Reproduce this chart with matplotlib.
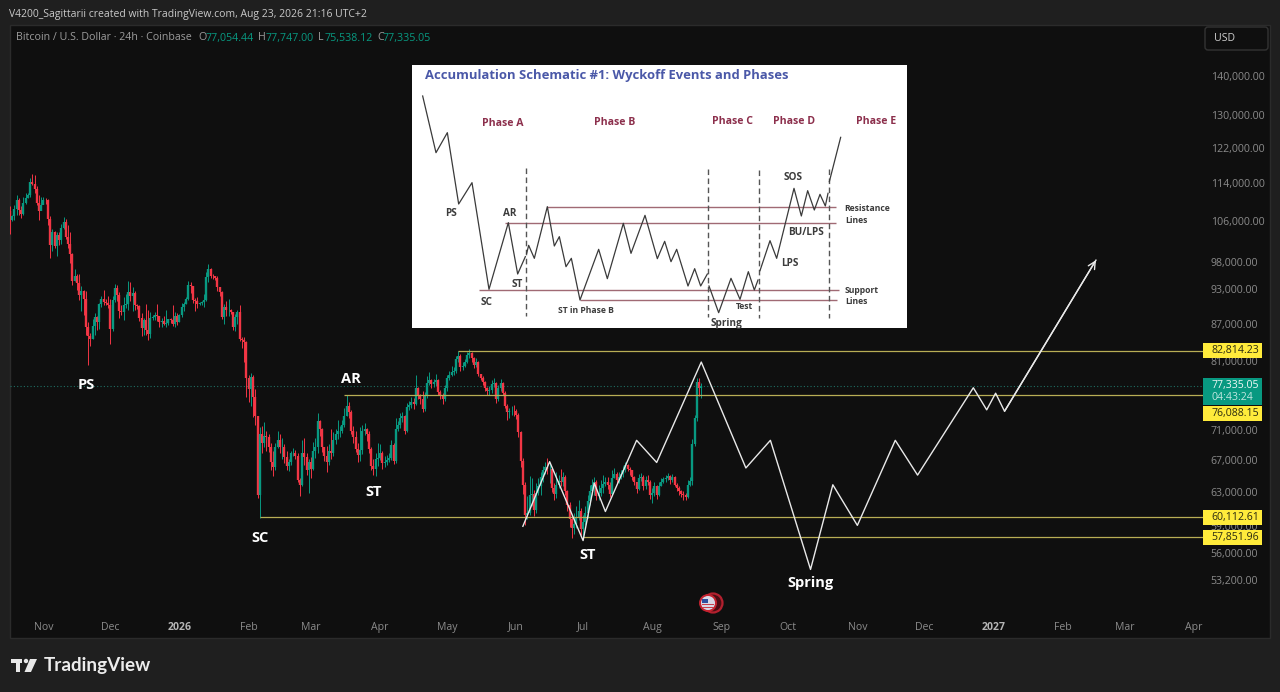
import numpy as np
import matplotlib
matplotlib.use("Agg")
import matplotlib.pyplot as plt
import matplotlib.dates as mdates
from matplotlib.patches import Rectangle, FancyBboxPatch, Circle, Polygon
from matplotlib.ticker import FixedLocator, FixedFormatter, NullLocator
from matplotlib.transforms import ScaledTranslation
import datetime as dt

plt.rcParams['font.family'] = ['Open Sans', 'DejaVu Sans']

# daily candles in thousand USD, first bar is 17 Oct 2025
close_k = [
    106.4,107.2,108.6,110.5,108.4,107.6,110.0,111.0,111.6,114.5,114.1,112.9,110.0,108.3,109.6,
    110.6,110.5,106.5,101.5,103.9,101.3,103.3,102.3,104.7,106.0,103.0,101.6,99.7,94.6,95.6,94.2,92.2,92.9,91.5,86.6,85.1,84.7,86.8,88.3,87.4,90.5,91.4,90.9,90.8,90.4,
    86.3,91.3,93.4,92.1,89.3,89.2,90.4,90.6,92.7,92.0,92.5,90.3,90.2,88.2,86.4,87.8,86.1,85.5,88.1,88.3,88.6,88.5,87.5,87.7,87.2,87.3,87.9,87.8,87.1,88.5,87.5,
    88.7,90.0,90.6,91.5,93.9,93.7,91.3,91.1,90.5,90.7,90.9,91.2,95.3,96.9,95.6,95.5,95.1,93.6,92.6,88.3,90.0,89.5,89.5,89.2,86.6,88.3,89.1,84.6,84.5,84.1,78.6,
    76.9,78.7,75.8,73.0,62.8,70.5,69.3,70.3,70.1,68.8,66.9,66.2,68.8,69.8,68.8,68.8,67.5,66.4,66.9,68.0,68.0,67.6,64.6,64.0,68.0,67.5,65.9,66.9,
    66.0,68.3,68.8,72.3,71.2,68.8,67.6,66.9,68.3,68.0,69.8,70.5,71.0,71.0,71.8,73.0,74.5,73.6,71.0,70.2,68.6,67.7,68.4,71.0,71.2,70.6,68.6,66.4,66.0,67.2,67.4,
    68.0,66.7,66.9,67.1,67.4,69.1,67.0,71.2,71.8,72.8,73.0,71.0,74.3,74.6,75.0,74.8,77.0,76.0,75.4,74.0,76.0,77.8,78.3,77.6,78.0,78.2,76.5,76.0,75.5,77.0,
    78.5,79.0,79.4,79.6,81.5,81.9,80.3,80.4,81.0,82.1,82.4,81.6,80.5,81.0,79.1,78.6,78.0,77.0,76.6,76.8,77.6,77.8,75.5,77.0,77.8,76.4,74.4,73.6,73.7,73.8,73.7,
    73.2,70.8,67.0,64.0,60.4,60.6,62.8,62.9,61.0,63.0,63.8,65.0,65.8,66.2,66.0,66.0,63.6,62.9,64.0,64.5,64.4,65.0,63.2,61.6,59.9,58.9,59.4,60.2,60.9,58.8,
    59.6,60.6,62.0,63.2,64.0,64.4,62.6,63.0,63.6,64.1,64.4,64.0,62.9,64.9,65.4,64.6,65.0,65.3,65.8,66.5,66.0,65.9,65.0,64.3,63.5,64.8,65.0,63.8,64.6,64.4,62.8,
    63.0,63.9,62.7,63.9,64.4,64.7,64.9,65.1,64.6,65.0,64.0,63.6,63.2,62.9,62.7,62.5,64.0,64.5,69.2,72.7,78.0,77.05444,77.33505,
]
high_k = [
    109.2,107.5,109.4,111.7,111.0,109.2,111.2,112.0,112.0,115.4,116.3,116.0,113.6,111.6,111.2,
    111.2,111.0,110.8,107.3,104.5,104.2,104.0,103.9,105.5,107.0,106.6,105.3,104.0,99.8,96.8,96.0,96.0,93.8,93.1,92.8,87.5,85.6,88.0,89.0,88.5,90.7,91.9,93.1,91.5,91.9,
    91.4,92.0,94.1,94.0,92.7,90.3,91.8,92.3,94.6,94.5,93.5,92.8,90.6,90.3,89.0,88.2,90.6,89.5,89.2,88.6,89.1,90.6,88.0,88.2,88.5,89.5,88.0,88.1,90.4,89.2,89.0,
    88.9,90.8,90.9,91.7,94.6,94.4,93.6,91.6,91.7,90.9,91.1,92.3,96.3,97.8,97.1,95.9,95.6,95.5,93.5,92.9,90.6,91.0,91.4,89.7,89.2,88.9,89.5,90.4,85.0,85.0,84.3,
    79.0,79.3,79.0,76.9,73.0,71.5,71.7,72.2,71.0,70.5,69.3,68.3,69.4,70.9,70.5,70.0,69.2,68.3,67.3,68.3,68.7,68.4,68.0,64.9,69.8,70.0,68.0,67.2,
    67.5,69.5,70.0,73.5,72.5,71.4,68.6,69.0,69.2,71.2,70.8,71.2,72.5,71.6,72.5,74.2,76.1,75.0,73.9,71.6,71.0,69.4,71.5,71.8,72.0,71.4,71.0,68.8,67.2,68.0,69.3,
    69.2,68.3,67.6,67.8,68.0,69.8,69.4,72.8,72.4,73.4,73.6,73.2,74.9,75.2,75.8,75.6,79.0,77.2,76.2,76.6,76.5,78.9,79.4,78.4,78.4,79.1,78.4,76.8,76.4,77.5,
    79.0,79.6,80.4,80.2,82.0,82.7,82.2,81.0,81.5,82.6,83.0,82.6,81.8,81.6,81.2,79.2,78.8,78.1,77.2,77.4,78.2,78.6,78.0,77.5,78.4,78.0,76.6,74.8,74.2,74.4,74.6,
    74.0,73.4,71.0,67.4,64.4,62.6,65.1,64.9,63.4,64.2,64.8,65.6,66.4,66.9,67.4,66.6,66.2,64.2,65.6,65.2,66.0,65.6,65.2,63.4,61.9,60.4,60.6,61.4,62.2,61.2,
    60.4,61.4,62.8,64.0,64.7,65.0,64.6,64.0,64.6,65.2,65.0,65.0,64.3,65.8,66.1,65.6,65.6,65.9,66.3,66.9,66.6,66.2,65.9,65.1,64.4,65.4,65.5,65.2,65.1,65.2,64.6,
    63.6,64.3,64.0,64.4,64.8,65.0,65.2,65.5,65.2,65.4,65.1,64.2,63.8,63.4,63.2,63.0,64.6,65.0,69.9,73.2,78.6,78.6,77.747,
]
low_k = [
    103.5,106.1,106.4,107.5,107.4,106.9,107.4,109.8,110.9,111.3,113.8,112.0,109.5,106.3,108.4,
    109.7,109.8,105.3,98.9,100.3,100.8,99.3,101.5,101.6,104.5,102.5,100.8,98.0,94.0,94.6,93.0,91.2,89.3,88.6,85.4,80.6,83.5,84.7,85.3,86.1,86.3,90.1,90.3,90.3,89.9,
    83.8,85.9,90.9,91.1,88.2,88.6,87.8,89.8,89.5,91.0,89.3,89.5,89.7,87.6,85.2,85.3,85.3,84.5,84.9,87.8,87.8,87.7,86.6,86.6,86.9,86.6,87.0,87.3,86.8,86.6,87.0,
    87.5,88.4,89.3,90.5,91.3,92.5,90.8,89.3,89.8,90.4,90.3,90.0,91.1,94.4,95.1,95.0,94.9,92.9,92.0,87.9,87.2,88.5,88.5,88.9,86.1,86.0,87.2,84.3,83.2,81.0,75.7,
    75.0,74.5,72.9,71.8,62.4,60.1,68.0,68.8,68.3,68.2,65.8,65.1,65.8,68.7,68.0,67.3,66.7,65.9,65.7,66.5,67.6,67.3,64.3,62.6,63.9,66.5,65.2,63.0,
    64.9,65.9,67.4,68.0,70.3,68.2,67.0,65.6,66.5,67.3,67.6,69.2,69.9,70.2,70.7,71.5,73.0,72.8,70.6,69.4,68.2,66.9,67.0,67.9,70.4,69.6,68.0,65.8,65.2,65.1,66.3,
    67.1,66.0,66.2,66.5,66.9,67.1,66.6,66.7,70.9,71.4,72.2,70.6,70.8,73.9,74.2,74.0,74.6,75.4,74.8,73.6,73.8,75.6,77.5,77.0,77.2,77.4,76.0,75.5,74.8,75.2,
    76.6,78.2,78.8,79.0,79.3,81.0,79.6,79.8,80.2,80.8,81.7,81.0,80.1,80.2,78.8,78.2,77.5,76.6,76.0,76.1,76.3,77.2,74.9,75.2,76.6,76.0,74.1,72.5,72.7,73.2,73.0,
    72.6,70.2,66.2,62.9,59.2,59.9,60.4,61.4,60.3,60.6,62.8,62.8,64.4,65.4,65.4,64.2,63.1,62.1,62.4,63.6,63.8,63.8,62.8,60.8,59.0,57.8,58.2,58.9,59.8,58.1,
    57.9,59.2,60.1,61.6,62.8,62.8,62.2,62.2,62.6,63.0,63.8,63.5,62.5,62.7,64.8,64.2,64.2,64.7,65.0,65.6,65.7,65.2,64.6,64.0,63.0,63.4,64.5,63.4,63.5,64.0,62.3,
    61.8,62.6,62.3,62.6,63.8,64.2,64.4,64.6,64.1,64.4,63.8,63.2,62.8,62.5,62.2,62.2,62.4,63.8,64.0,68.9,72.4,75.9,75.53812,
]
assert len(close_k) == len(high_k) == len(low_k) == 311

# the white projected path
path_dates = ["2026-06-04","2026-06-16","2026-07-01","2026-07-06","2026-07-11","2026-07-25","2026-08-03",
              "2026-08-23","2026-09-12","2026-09-23","2026-10-11","2026-10-21","2026-11-01","2026-11-18",
              "2026-11-28","2026-12-23","2026-12-29","2027-01-02","2027-01-06","2027-02-16"]
path_k = [59.1,66.9,57.5,64.2,60.8,69.7,66.8,81.0,66.1,69.7,54.4,64.0,59.2,69.7,65.2,77.1,73.9,76.3,73.7,98.5]

# horizontal levels and the day they start on
level_prices = [82814.23, 76088.15, 60112.61, 57851.96]
level_starts = ["2026-05-06", "2026-03-16", "2026-02-06", "2026-07-01"]
level_shift_px = [0, 19, 0, 0]

wyckoff_text = ["PS", "AR", "ST", "SC", "ST", "Spring"]
wyckoff_dates = ["2025-11-20", "2026-03-19", "2026-03-29", "2026-02-06", "2026-07-03", "2026-10-11"]
wyckoff_k = [77.5, 78.4, 63.1, 57.8, 55.9, 53.0]

price_ticks = [140000,130000,122000,114000,106000,98000,93000,87000,81000,71000,67000,63000,59000,56000,53200]
month_dates = ["2025-11-01","2025-12-01","2026-01-01","2026-02-01","2026-03-01","2026-04-01","2026-05-01","2026-06-01",
               "2026-07-01","2026-08-01","2026-09-01","2026-10-01","2026-11-01","2026-12-01","2027-01-01","2027-02-01",
               "2027-03-01","2027-04-01"]
month_labels = ["Nov","Dec","2026","Feb","Mar","Apr","May","Jun","Jul","Aug","Sep","Oct","Nov","Dec","2027","Feb","Mar","Apr"]

# schematic inset, traced on its own 1500 wide grid
sch_a_x = [38,78,112,146,186,237,295,323,346]
sch_a_y = [108,278,218,432,368,688,488,642,590]
sch_b_x = [350,356,373,412,433,448,468,484,510,566,592,640,663,705,742,764,783,800,834,854,872,892]
sch_b_y = [580,556,595,440,558,530,620,595,720,568,656,490,580,466,596,544,605,568,678,626,678,642]
sch_c_x = [897,926,963,990,1015,1033,1044]
sch_c_y = [678,758,655,718,635,690,660]
sch_d_x = [1050,1080,1100,1152,1174,1193,1213,1230,1246,1254]
sch_d_y = [632,542,595,385,468,392,450,403,438,400]
sch_e_x = [1258,1292]
sch_e_y = [365,232]
sch_h_y = [440,488,691,721]
sch_h_from = [412,285,207,510]
sch_h_to = [1278,1278,1288,1282]
sch_v_x = [348,895,1046,1257]
sch_v_from = [325,328,330,328]
sch_v_to = [768,770,775,775]
phase_text = ["Phase A","Phase B","Phase C","Phase D","Phase E"]
phase_x = [279,614,967,1152,1397]
phase_y = [191,188,186,186,184]
event_text = ["PS","AR","ST","SC","ST in Phase B","Test","Spring","SOS","BU/LPS","LPS","Resistance","Lines","Support","Lines"]
event_x = [123,299,322,229,527,1002,950,1148,1189,1140,1372,1338,1356,1340]
event_y = [461,459,672,727,752,740,790,352,516,610,446,480,690,725]

W, H = 1280, 692
def ax_rect(x0, y0, x1, y1):
    return [x0/W, 1-y1/H, (x1-x0)/W, (y1-y0)/H]

GREEN = "#089981"
RED = "#f23645"
LEVEL = "#b8ae55"
TICK = "#8b8b8b"
PANEL = "#0f0f0f"

fig = plt.figure(figsize=(12.8, 6.92), dpi=100, facecolor="#1f1f1f")
fig.add_artist(Rectangle((10/W, 1-638/H), 1260/W, 613/H, transform=fig.transFigure,
                         fc=PANEL, ec="#2b2b2b", lw=1, zorder=-1))

# panel is one pixel lower than the scale labels suggest, labels are moved back below
ax = fig.add_axes(ax_rect(10, 26, 1203, 639), facecolor="none")
ax.set_yscale("log")
ax.set_ylim(47600, 154400)
ax.set_xlim(mdates.date2num(dt.date(2025,10,17)), mdates.date2num(dt.date(2027,4,5)))

first = mdates.date2num(dt.date(2025,10,17))
days = first + np.arange(len(close_k))
closes = np.array(close_k)*1000
highs = np.array(high_k)*1000
lows = np.array(low_k)*1000
opens = np.r_[108200.0, closes[:-1]]
up = closes >= opens
colors = np.where(up, GREEN, RED)

ax.axhline(closes[-1], color="#1f6f64", lw=0.8, ls=(0, (1, 2)), zorder=1)
ax.vlines(days, lows, highs, colors=colors, lw=0.7, zorder=2)
ax.vlines(days, np.minimum(opens, closes), np.maximum(opens, closes), colors=colors, lw=1.7, zorder=3)

right_end = ax.get_xlim()[1]
for price, start in zip(level_prices, level_starts):
    ax.hlines(price, mdates.datestr2num(start), right_end, color=LEVEL, lw=0.9, zorder=4)

px = mdates.datestr2num(path_dates)
py = np.array(path_k)*1000
ax.plot(px, py, color="#e9e9e9", lw=1.0, zorder=5)
ax.annotate("", xy=(px[-1], py[-1]), xytext=(px[-2], py[-2]), zorder=5,
            arrowprops=dict(arrowstyle="->", color="#e9e9e9", lw=1.0, mutation_scale=13, shrinkA=0, shrinkB=0))

for label, d, k in zip(wyckoff_text, wyckoff_dates, wyckoff_k):
    ax.text(mdates.datestr2num(d), k*1000, label, color="white", fontsize=10.5, fontweight="bold",
            ha="center", va="center", zorder=6)

# price scale, labels left aligned at a fixed x
ax.yaxis.tick_right()
ax.yaxis.set_major_locator(FixedLocator(price_ticks))
ax.yaxis.set_major_formatter(FixedFormatter([f"{v:,.2f}" for v in price_ticks]))
ax.yaxis.set_minor_locator(NullLocator())
ax.tick_params(axis="y", length=0, pad=5.5, labelsize=7.6, labelcolor=TICK)
label_up = ScaledTranslation(0, 1/100, fig.dpi_scale_trans)
for t in ax.get_yticklabels():
    t.set_ha("left")
    t.set_transform(t.get_transform() + label_up)

# time scale drawn inside the panel like TradingView does
ax.xaxis.set_major_locator(FixedLocator(mdates.datestr2num(month_dates)))
ax.xaxis.set_major_formatter(FixedFormatter(month_labels))
ax.tick_params(axis="x", length=0, pad=-8.6, labelsize=7.6, labelcolor=TICK)
for t in ax.get_xticklabels():
    t.set_va("center")
    if t.get_text() in ("2026", "2027"):
        t.set_fontweight("bold")
        t.set_color("#b5b5b5")
for s in ax.spines.values():
    s.set_visible(False)

# inset schematic
ins = fig.add_axes(ax_rect(412, 65, 907, 328), facecolor="white", zorder=3)
ins.set_xlim(6, 1491)
ins.set_ylim(804, 15)
ins.set_xticks([])
ins.set_yticks([])
for s in ins.spines.values():
    s.set_visible(False)
ins.hlines(sch_h_y, sch_h_from, sch_h_to, color="#a06a74", lw=1)
ins.vlines(sch_v_x, sch_v_from, sch_v_to, color="#555555", lw=1, linestyles=(0, (4, 2.5)))
for xs, ys in [(sch_a_x, sch_a_y), (sch_b_x, sch_b_y), (sch_c_x, sch_c_y), (sch_d_x, sch_d_y), (sch_e_x, sch_e_y)]:
    ins.plot(xs, ys, color="#3a3a3a", lw=0.9)
ins.text(44, 47, "Accumulation Schematic #1: Wyckoff Events and Phases", color="#4a58a8",
         fontsize=9.35, fontweight="bold", va="center", ha="left")
for label, x, y in zip(phase_text, phase_x, phase_y):
    ins.text(x, y, label, color="#8c2f4c", fontsize=7.6, fontweight="bold", ha="center", va="center")
for label, x, y in zip(event_text, event_x, event_y):
    small = label in ("Resistance", "Lines", "Support", "Test", "ST in Phase B")
    ins.text(x, y, label, color="#3c3c3c", fontsize=6.2 if small else 7.2, fontweight="bold", ha="center", va="center")

# chrome: header, legend, currency box, tags, logo, flag
over = fig.add_axes([0, 0, 1, 1], facecolor="none", zorder=5)
over.set_xlim(0, W)
over.set_ylim(H, 0)
over.axis("off")
over.text(9, 14, "V4200_Sagittarii created with TradingView.com, Aug 23, 2026 21:16 UTC+2", color="#c9c9c9",
          fontsize=7.45, va="center", ha="left")
over.text(16, 38, "Bitcoin / U.S. Dollar · 24h · Coinbase", color="#9c9c9c", fontsize=7.7, va="center", ha="left")
legend_keys = ["O", "H", "L", "C"]
legend_vals = ["77,054.44", "77,747.00", "75,538.12", "77,335.05"]
legend_key_x = [198, 258, 318, 377]
legend_val_x = [206, 266, 325, 383]
for k, v, kx, vx in zip(legend_keys, legend_vals, legend_key_x, legend_val_x):
    over.text(kx, 38, k, color="#9c9c9c", fontsize=7.7, va="center", ha="left")
    over.text(vx, 38, v, color=GREEN, fontsize=7.7, va="center", ha="left")
over.add_patch(FancyBboxPatch((1205, 27), 63, 23, boxstyle="round,pad=0,rounding_size=3", fc=PANEL, ec="#333333", lw=1))
over.text(1214, 38.5, "USD", color="#cfcfcf", fontsize=7.6, ha="left", va="center")

# price tags, placed from the axis position of each price
fig.canvas.draw()
def price_px(price):
    return H - ax.transData.transform((first, price))[1]

last_y = price_px(closes[-1])
over.add_patch(Rectangle((1203, last_y-8), 59, 26.5, fc=GREEN, ec="none"))
over.text(1211, last_y-1, f"{closes[-1]:,.2f}", color="#f0f8f6", fontsize=7.6, ha="left", va="center")
over.text(1211, last_y+11, "04:43:24", color="#bfe6df", fontsize=7.6, ha="left", va="center")
for price, shift in zip(level_prices, level_shift_px):
    y = price_px(price) + shift
    over.add_patch(Rectangle((1203, y-7.3), 59, 14.6, fc="#ffeb3b", ec="none"))
    over.text(1211, y, f"{price:,.2f}", color="#2b2b10", fontsize=7.6, ha="left", va="center")

over.add_patch(Circle((713, 603), 9.5, fc="#4a0d14", ec="#b3202e", lw=1.6))
over.add_patch(Circle((708, 603), 8, fc="#d8d8e6", ec="#c4222f", lw=1.4))
over.add_patch(Rectangle((702, 599), 6, 4, fc="#2c4f9e", ec="none"))
for sy in (604, 607):
    over.add_patch(Rectangle((702, sy), 12, 1.2, fc="#c9404c", ec="none"))

over.add_patch(Rectangle((11, 659), 11, 3.5, fc="#e8e8e8", ec="none"))
over.add_patch(Rectangle((15.5, 659), 4.5, 13, fc="#e8e8e8", ec="none"))
over.add_patch(Circle((26, 661), 2.2, fc="#e8e8e8", ec="none"))
over.add_patch(Polygon([(30, 659), (37, 659), (31, 672), (24.5, 672)], fc="#e8e8e8", ec="none"))
over.text(44, 666, "TradingView", color="#ececec", fontsize=13.6, fontweight="bold", ha="left", va="center",
          family=["Lato", "DejaVu Sans"])

fig.savefig("out.png", dpi=100, facecolor=fig.get_facecolor())
